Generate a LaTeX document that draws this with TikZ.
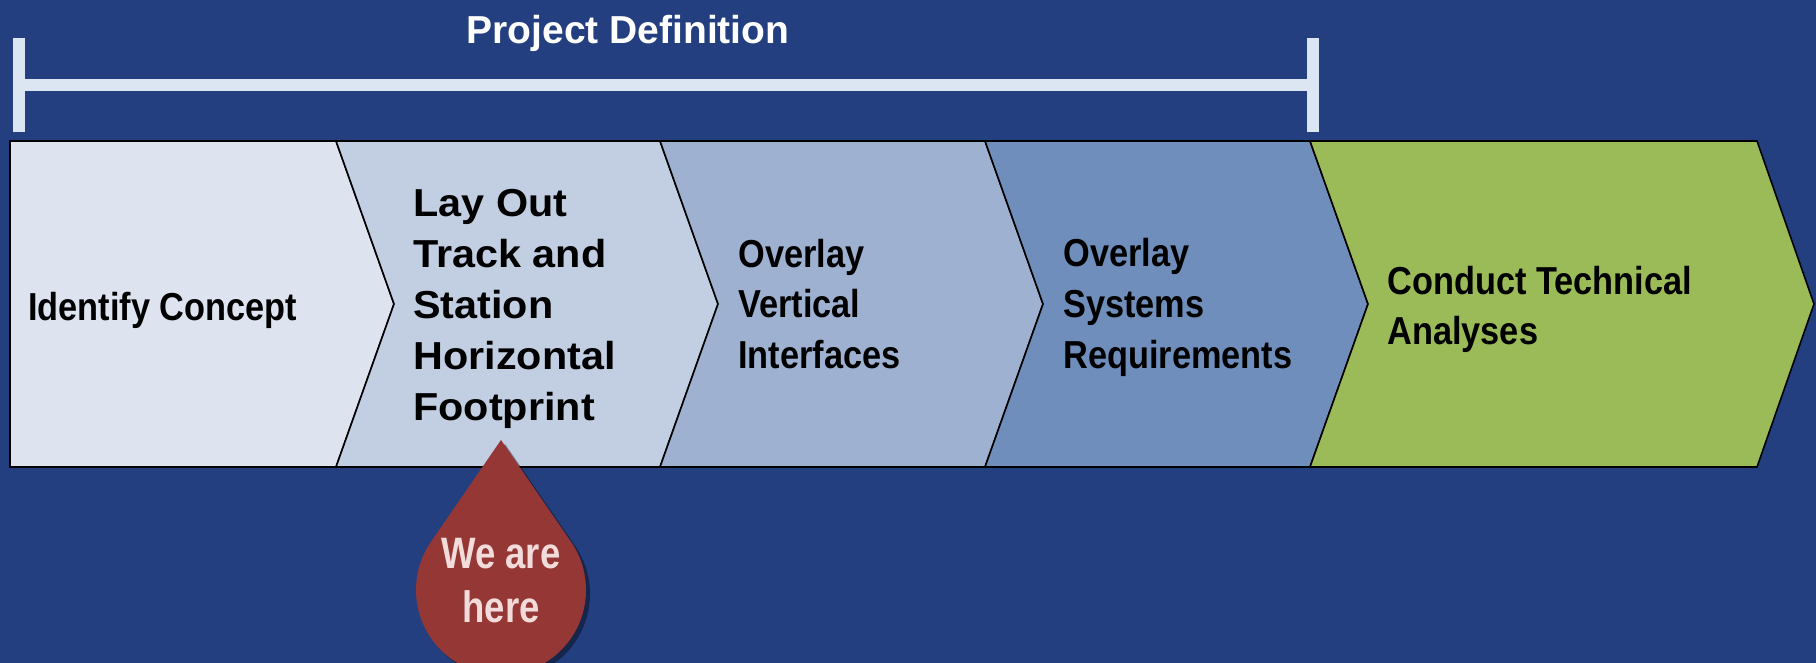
\documentclass[tikz,border=0pt]{standalone}
\usepackage{fontspec}
\setmainfont{Liberation Sans}
\newfontfamily\stepfont[FakeStretch=0.88]{Liberation Sans}
\newfontfamily\widefont[FakeStretch=1.06]{Liberation Sans}
\newfontfamily\dropfont[FakeStretch=0.83]{Liberation Sans}
\usepackage{tikz}
\usetikzlibrary{positioning}
\usetikzlibrary{shadows}
\usepackage{xcolor}

\definecolor{bgblue}{HTML}{233F7F}
\definecolor{spanwhite}{HTML}{DCE6F2}
\definecolor{stepa}{HTML}{DDE4EF}
\definecolor{stepb}{HTML}{C2CEE2}
\definecolor{stepc}{HTML}{9EB1D0}
\definecolor{stepd}{HTML}{6F8EBB}
\definecolor{stepe}{HTML}{9BBB59}
\definecolor{dropred}{HTML}{953735}
\definecolor{droptext}{HTML}{F2DCDB}

\tikzset{
    chevron/.style={draw=black, line width=0.8pt},
    steptext/.style={anchor=west, align=left, inner sep=0pt,
        font=\stepfont\bfseries\fontsize{19.5}{25.3}\selectfont},
    span bar/.style={draw=spanwhite, line width=6pt}
}

\begin{document}
\begin{tikzpicture}[x=0.5pt, y=0.5pt]
    \useasboundingbox (0,0) rectangle (1816,663);
    \fill[bgblue] (0,0) rectangle (1816,663);

    % Span of the project definition
    \coordinate (span west) at (19,578);
    \coordinate (span east) at (1313,578);
    \draw[span bar] (span west) -- (span east);
    \draw[span bar] ([yshift=23.5pt]span west) -- ([yshift=-23.5pt]span west);
    \draw[span bar] ([yshift=23.5pt]span east) -- ([yshift=-23.5pt]span east);
    \node[font=\bfseries\fontsize{19.5}{24}\selectfont, text=white, inner sep=0pt]
        (projdef) at (628,630) {Project Definition};

    % Process chevrons
    \filldraw[chevron, fill=stepa] (10,522) -- (336,522) -- (394,359) -- (336,196) -- (10,196) -- cycle;
    \filldraw[chevron, fill=stepb] (336,522) -- (660,522) -- (718,359) -- (660,196) -- (336,196) -- (394,359) -- cycle;
    \filldraw[chevron, fill=stepc] (660,522) -- (985,522) -- (1043,359) -- (985,196) -- (660,196) -- (718,359) -- cycle;
    \filldraw[chevron, fill=stepd] (985,522) -- (1310,522) -- (1368,359) -- (1310,196) -- (985,196) -- (1043,359) -- cycle;
    \filldraw[chevron, fill=stepe] (1310,522) -- (1757,522) -- (1814,359) -- (1757,196) -- (1310,196) -- (1368,359) -- cycle;

    % Step labels
    \node[steptext] (identify) at (28,353) {Identify Concept};
    \node[steptext, font=\widefont\bfseries\fontsize{19.5}{25.5}\selectfont]
        (layout) at (413,354) {Lay Out\\Track and\\Station\\Horizontal\\Footprint};
    \node[steptext] (vertical) at (738,359) {Overlay\\Vertical\\Interfaces};
    \node[steptext] (systems) at (1063,355.5) {Overlay\\Systems\\Requirements};
    \node[steptext] (analyses) at (1387,353.5) {Conduct Technical\\Analyses};

    % Marker under the current step
    \coordinate (drop tip) at (501,223);
    \coordinate (drop c) at (501,73);
    \fill[dropred, drop shadow={shadow xshift=2pt, shadow yshift=-2pt, opacity=0.4, fill=black}]
        (drop tip) -- ([shift={(34.5:85)}]drop c) arc[start angle=34.5, end angle=-214.5, radius=85] -- cycle;
    \node[font=\dropfont\bfseries\fontsize{22}{27}\selectfont, text=droptext, align=center, inner sep=0pt]
        (here) at (501,82) {We are\\here};
\end{tikzpicture}
\end{document}
